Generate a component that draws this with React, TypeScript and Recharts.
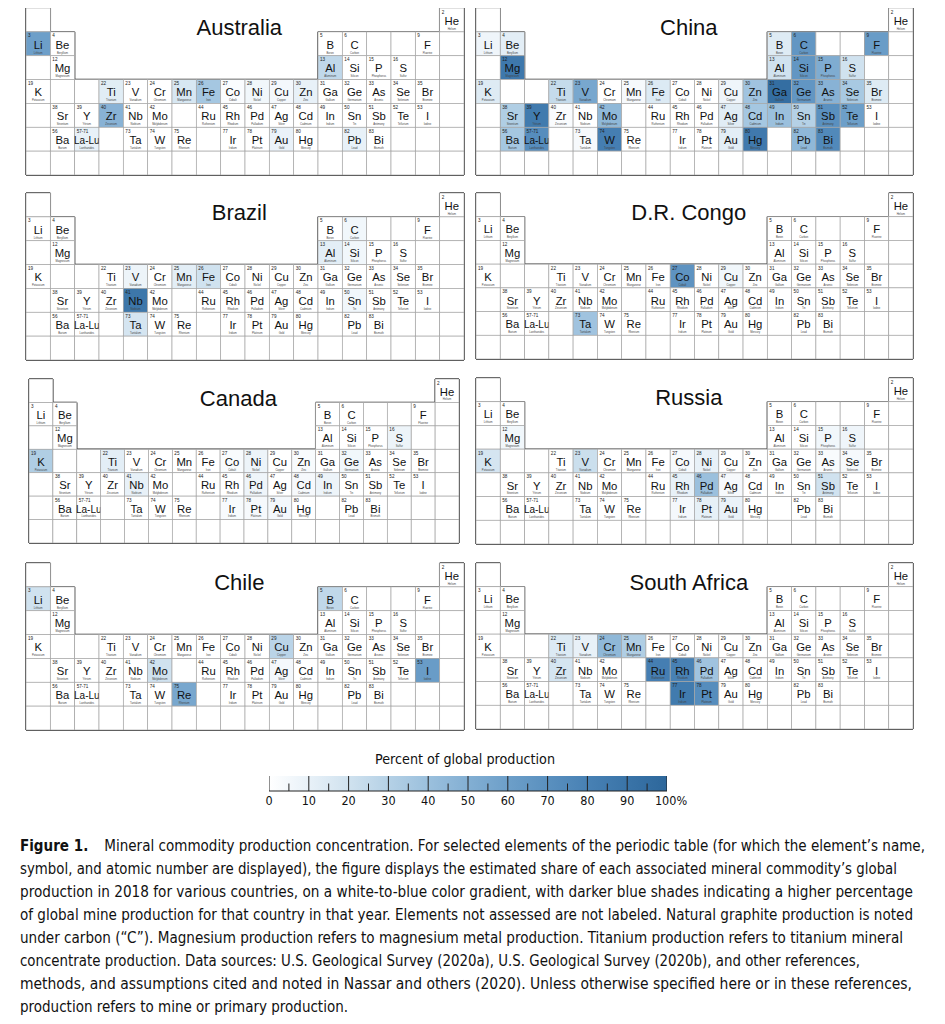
import React from "react";
import { ScatterChart, Scatter, XAxis, YAxis, ReferenceLine, ReferenceArea } from "recharts";

type Elem = { num: string; sym: string; name: string; period: number; group: number };

// elements that are labelled in every table
const elements: Elem[] = [
  { num: "2", sym: "He", name: "Helium", period: 1, group: 18 },
  { num: "3", sym: "Li", name: "Lithium", period: 2, group: 1 },
  { num: "4", sym: "Be", name: "Beryllium", period: 2, group: 2 },
  { num: "5", sym: "B", name: "Boron", period: 2, group: 13 },
  { num: "6", sym: "C", name: "Carbon", period: 2, group: 14 },
  { num: "9", sym: "F", name: "Fluorine", period: 2, group: 17 },
  { num: "12", sym: "Mg", name: "Magnesium", period: 3, group: 2 },
  { num: "13", sym: "Al", name: "Aluminum", period: 3, group: 13 },
  { num: "14", sym: "Si", name: "Silicon", period: 3, group: 14 },
  { num: "15", sym: "P", name: "Phosphorus", period: 3, group: 15 },
  { num: "16", sym: "S", name: "Sulfur", period: 3, group: 16 },
  { num: "19", sym: "K", name: "Potassium", period: 4, group: 1 },
  { num: "22", sym: "Ti", name: "Titanium", period: 4, group: 4 },
  { num: "23", sym: "V", name: "Vanadium", period: 4, group: 5 },
  { num: "24", sym: "Cr", name: "Chromium", period: 4, group: 6 },
  { num: "25", sym: "Mn", name: "Manganese", period: 4, group: 7 },
  { num: "26", sym: "Fe", name: "Iron", period: 4, group: 8 },
  { num: "27", sym: "Co", name: "Cobalt", period: 4, group: 9 },
  { num: "28", sym: "Ni", name: "Nickel", period: 4, group: 10 },
  { num: "29", sym: "Cu", name: "Copper", period: 4, group: 11 },
  { num: "30", sym: "Zn", name: "Zinc", period: 4, group: 12 },
  { num: "31", sym: "Ga", name: "Gallium", period: 4, group: 13 },
  { num: "32", sym: "Ge", name: "Germanium", period: 4, group: 14 },
  { num: "33", sym: "As", name: "Arsenic", period: 4, group: 15 },
  { num: "34", sym: "Se", name: "Selenium", period: 4, group: 16 },
  { num: "35", sym: "Br", name: "Bromine", period: 4, group: 17 },
  { num: "38", sym: "Sr", name: "Strontium", period: 5, group: 2 },
  { num: "39", sym: "Y", name: "Yttrium", period: 5, group: 3 },
  { num: "40", sym: "Zr", name: "Zirconium", period: 5, group: 4 },
  { num: "41", sym: "Nb", name: "Niobium", period: 5, group: 5 },
  { num: "42", sym: "Mo", name: "Molybdenum", period: 5, group: 6 },
  { num: "44", sym: "Ru", name: "Ruthenium", period: 5, group: 8 },
  { num: "45", sym: "Rh", name: "Rhodium", period: 5, group: 9 },
  { num: "46", sym: "Pd", name: "Palladium", period: 5, group: 10 },
  { num: "47", sym: "Ag", name: "Silver", period: 5, group: 11 },
  { num: "48", sym: "Cd", name: "Cadmium", period: 5, group: 12 },
  { num: "49", sym: "In", name: "Indium", period: 5, group: 13 },
  { num: "50", sym: "Sn", name: "Tin", period: 5, group: 14 },
  { num: "51", sym: "Sb", name: "Antimony", period: 5, group: 15 },
  { num: "52", sym: "Te", name: "Tellurium", period: 5, group: 16 },
  { num: "53", sym: "I", name: "Iodine", period: 5, group: 17 },
  { num: "56", sym: "Ba", name: "Barium", period: 6, group: 2 },
  { num: "57-71", sym: "La-Lu", name: "Lanthanides", period: 6, group: 3 },
  { num: "73", sym: "Ta", name: "Tantalum", period: 6, group: 5 },
  { num: "74", sym: "W", name: "Tungsten", period: 6, group: 6 },
  { num: "75", sym: "Re", name: "Rhenium", period: 6, group: 7 },
  { num: "77", sym: "Ir", name: "Iridium", period: 6, group: 9 },
  { num: "78", sym: "Pt", name: "Platinum", period: 6, group: 10 },
  { num: "79", sym: "Au", name: "Gold", period: 6, group: 11 },
  { num: "80", sym: "Hg", name: "Mercury", period: 6, group: 12 },
  { num: "82", sym: "Pb", name: "Lead", period: 6, group: 14 },
  { num: "83", sym: "Bi", name: "Bismuth", period: 6, group: 15 },
];

// percent of global production, 2018
const australiaShares: [string, number][] = [
  ["Li", 60], ["Al", 26], ["Ti", 13], ["Mn", 17], ["Fe", 36], ["Co", 2], ["Ni", 6], ["Cu", 5],
  ["Zn", 10], ["Zr", 48], ["La-Lu", 10], ["Au", 9], ["Pb", 10],
];
const chinaShares: [string, number][] = [
  ["Li", 7], ["Be", 12], ["B", 14], ["C", 66], ["F", 62], ["Mg", 87], ["Al", 20], ["Si", 66],
  ["P", 52], ["S", 20], ["K", 14], ["Ti", 24], ["V", 55], ["Mn", 4], ["Fe", 15], ["Cu", 7],
  ["Zn", 38], ["Ga", 95], ["Ge", 66], ["As", 48], ["Se", 35], ["Br", 14], ["Sr", 32], ["Y", 85],
  ["Zr", 2], ["Mo", 45], ["Ag", 13], ["Cd", 36], ["In", 40], ["Sn", 30], ["Sb", 70], ["Te", 60],
  ["Ba", 36], ["La-Lu", 72], ["Ta", 4], ["W", 82], ["Au", 12], ["Hg", 86], ["Pb", 45], ["Bi", 75],
];
const brazilShares: [string, number][] = [
  ["C", 6], ["Al", 12], ["Si", 6], ["V", 8], ["Mn", 12], ["Fe", 20], ["Nb", 88], ["Sn", 6], ["Ta", 18],
];
const congoShares: [string, number][] = [["Co", 68], ["Cu", 6], ["Ta", 38]];
const canadaShares: [string, number][] = [
  ["S", 8], ["K", 32], ["Ti", 12], ["Ni", 8], ["Ge", 6], ["Nb", 10], ["Pd", 7], ["Cd", 4],
  ["In", 8], ["Pt", 4], ["Ir", 3], ["Au", 5], ["Co", 3], ["Zn", 3],
];
const russiaShares: [string, number][] = [
  ["Mg", 6], ["P", 6], ["S", 7], ["K", 18], ["V", 22], ["Ni", 10], ["Co", 4], ["Se", 4], ["As", 3],
  ["Rh", 10], ["Pd", 40], ["Sb", 20], ["Ir", 5], ["Pt", 11], ["Au", 9], ["Ag", 4],
];
const chileShares: [string, number][] = [
  ["Li", 20], ["B", 26], ["Cu", 28], ["Mo", 20], ["Ag", 5], ["I", 62], ["Re", 55],
];
const southAfricaShares: [string, number][] = [
  ["Ti", 15], ["V", 10], ["Cr", 45], ["Mn", 32], ["Zr", 18], ["Ru", 82], ["Rh", 80], ["Pd", 38],
  ["Ir", 85], ["Pt", 72],
];

const countries: { name: string; shares: [string, number][] }[] = [
  { name: "Australia", shares: australiaShares },
  { name: "China", shares: chinaShares },
  { name: "Brazil", shares: brazilShares },
  { name: "D.R. Congo", shares: congoShares },
  { name: "Canada", shares: canadaShares },
  { name: "Russia", shares: russiaShares },
  { name: "Chile", shares: chileShares },
  { name: "South Africa", shares: southAfricaShares },
];

// colour scale
const gradientStops: [number, string][] = [
  [0, "#ffffff"], [10, "#e8f1f8"], [20, "#d0e2ef"], [30, "#b5d1e6"], [40, "#9bc0dd"],
  [50, "#83afd3"], [60, "#6d9fc9"], [70, "#5a90bf"], [80, "#4881b4"], [90, "#3a74a8"], [100, "#2d679b"],
];
const majorTicks = [0, 10, 20, 30, 40, 50, 60, 70, 80, 90, 100];
const minorTicks = [5, 15, 25, 35, 45, 55, 65, 75, 85, 95];

const captionLines = [
  "Mineral commodity production concentration. For selected elements of the periodic table (for which the element\u2019s name,",
  "symbol, and atomic number are displayed), the figure displays the estimated share of each associated mineral commodity\u2019s global",
  "production in 2018 for various countries, on a white-to-blue color gradient, with darker blue shades indicating a higher percentage",
  "of global mine production for that country in that year. Elements not assessed are not labeled. Natural graphite production is noted",
  "under carbon (\u201cC\u201d). Magnesium production refers to magnesium metal production. Titanium production refers to titanium mineral",
  "concentrate production. Data sources: U.S. Geological Survey (2020a), U.S. Geological Survey (2020b), and other references,",
  "methods, and assumptions cited and noted in Nassar and others (2020). Unless otherwise specified here or in these references,",
  "production refers to mine or primary production.",
];
const captionWidths = [905, 877, 893, 893, 883, 840, 892, 328];

const NARROW = '"Liberation Sans Narrow", "Arial Narrow", "DejaVu Sans Condensed", sans-serif';
const SANS = '"Liberation Sans", Arial, Helvetica, sans-serif';

// panel boxes (table area) inside the page container
const boxes = [
  { x: 18, y: 0, w: 438, h: 167 },
  { x: 468, y: 0, w: 437, h: 167 },
  { x: 18, y: 185, w: 438, h: 167 },
  { x: 468, y: 185, w: 437, h: 166 },
  { x: 21, y: 371, w: 430, h: 164 },
  { x: 468, y: 370, w: 437, h: 166 },
  { x: 18, y: 555, w: 438, h: 167 },
  { x: 468, y: 555, w: 437, h: 166 },
];

// heavy outline of the table, in [x1, y1, x2, y2] grid units
const outline: number[][] = [
  [0, 0, 1, 0], [0, 0, 0, 7], [0, 7, 18, 7], [18, 0, 18, 7], [17, 0, 18, 0],
  [0, 1, 1, 1], [1, 0, 1, 7], [1, 1, 2, 1], [2, 1, 2, 7], [2, 3, 12, 3],
  [12, 1, 12, 3], [12, 1, 17, 1], [17, 0, 17, 7], [16, 1, 16, 7],
];

const hexToRgb = (h: string) => [1, 3, 5].map((i) => parseInt(h.slice(i, i + 2), 16));
function shade(v: number) {
  if (!v) return "#ffffff";
  for (let i = 1; i < gradientStops.length; i++) {
    const [v0, c0] = gradientStops[i - 1];
    const [v1, c1] = gradientStops[i];
    if (v <= v1) {
      const t = (v - v0) / (v1 - v0);
      const a = hexToRgb(c0), b = hexToRgb(c1);
      return `rgb(${a.map((x, k) => Math.round(x + (b[k] - x) * t)).join(",")})`;
    }
  }
  return gradientStops[gradientStops.length - 1][1];
}

const inTable = (p: number, g: number) =>
  p === 1 ? g === 1 || g === 18 : p <= 3 ? g <= 2 || g >= 13 : true;

const gridCells: { x: number; y: number; el?: Elem }[] = [];
for (let p = 1; p <= 7; p++) {
  for (let g = 1; g <= 18; g++) {
    if (!inTable(p, g)) continue;
    gridCells.push({ x: g - 0.5, y: p - 0.5, el: elements.find((e) => e.period === p && e.group === g) });
  }
}

const PAD = 2;

const ElementCell = (props: any) => {
  const { cx, cy, payload, cw, ch } = props;
  const el: Elem | undefined = payload.el;
  return (
    <g>
      <rect x={cx - cw / 2} y={cy - ch / 2} width={cw} height={ch} fill={shade(payload.value)} stroke="#a6a6a6" strokeWidth={0.7} />
      {el && (
        <>
          <text x={cx - cw / 2 + 2} y={cy - ch / 2 + 5.6} fontSize={4.6} fontFamily={SANS} fill="#222">{el.num}</text>
          <text x={cx} y={cy + 4.8} textAnchor="middle" fontSize={el.sym.length > 2 ? 10 : 11.3} fontFamily={SANS} fill="#111">{el.sym}</text>
          <text x={cx} y={cy + ch / 2 - 2.2} textAnchor="middle" fontSize={2.7} fontFamily={SANS} fill="#444">{el.name}</text>
        </>
      )}
    </g>
  );
};

function Panel({ name, shares, box }: { name: string; shares: [string, number][]; box: { x: number; y: number; w: number; h: number } }) {
  const lookup = new Map(shares);
  const cells = gridCells.map((c) => ({ ...c, value: c.el ? lookup.get(c.el.sym) ?? 0 : 0 }));
  const cw = box.w / 18;
  const ch = box.h / 7;
  return (
    <>
      <div style={{ position: "absolute", left: box.x - PAD, top: box.y - PAD }}>
        <ScatterChart width={box.w + 2 * PAD} height={box.h + 2 * PAD} margin={{ top: PAD, right: PAD, bottom: PAD, left: PAD }}>
          <XAxis type="number" dataKey="x" domain={[0, 18]} allowDataOverflow hide />
          <YAxis type="number" dataKey="y" domain={[0, 7]} allowDataOverflow reversed hide />
          <Scatter data={cells} isAnimationActive={false} shape={(p: any) => <ElementCell {...p} cw={cw} ch={ch} />} />
          {outline.map((s, i) => (
            <ReferenceLine key={i} segment={[{ x: s[0], y: s[1] }, { x: s[2], y: s[3] }]} stroke="#2b2b2b" strokeWidth={1.4} ifOverflow="visible" />
          ))}
        </ScatterChart>
      </div>
      <div
        style={{
          position: "absolute",
          left: box.x + box.w * 0.487,
          top: box.y + 20,
          transform: "translate(-50%, -50%)",
          fontFamily: SANS,
          fontSize: 22,
          lineHeight: 1,
          color: "#111",
          whiteSpace: "nowrap",
        }}
      >
        {name}
      </div>
    </>
  );
}

const tickMarks = [
  ...majorTicks.map((t) => ({ x: t, y: 0, len: 1 })),
  ...minorTicks.map((t) => ({ x: t, y: 0, len: 0.5 })),
];
const BAR_H = 15;

const TickMark = (props: any) => {
  const { cx, cy, payload } = props;
  return <line x1={cx} x2={cx} y1={cy} y2={cy - BAR_H * payload.len} stroke="#222" strokeWidth={1} />;
};

const BarTick = (props: any) => {
  const { x, y, payload } = props;
  const v = payload.value;
  return (
    <text x={x + (v === 100 ? 4 : 0)} y={y + 14} textAnchor="middle" fontSize={12.5} fontFamily={NARROW} fill="#111">
      {v === 100 ? "100%" : String(v)}
    </text>
  );
};

function ColorBar() {
  return (
    <>
      <svg style={{ position: "absolute", left: 357, top: 740 }} width={200} height={24}>
        <text x={100} y={16} textAnchor="middle" fontSize={14} fontFamily={NARROW} fill="#111" textLength={180} lengthAdjust="spacingAndGlyphs">
          Percent of global production
        </text>
      </svg>
      <div style={{ position: "absolute", left: 249, top: 766 }}>
        <ScatterChart width={434} height={39} margin={{ top: 2, right: 24, bottom: 0, left: 12 }}>
          <defs>
            <linearGradient id="pgGrad" x1="0" y1="0" x2="1" y2="0">
              {gradientStops.map(([v, c]) => (
                <stop key={v} offset={`${v}%`} stopColor={c} />
              ))}
            </linearGradient>
          </defs>
          <XAxis
            type="number"
            dataKey="x"
            domain={[0, 100]}
            allowDataOverflow
            ticks={majorTicks}
            interval={0}
            tickLine={false}
            tickSize={0}
            tickMargin={0}
            height={22}
            axisLine={{ stroke: "#222", strokeWidth: 1 }}
            tick={<BarTick />}
          />
          <YAxis type="number" dataKey="y" domain={[0, 1]} allowDataOverflow hide />
          <ReferenceArea x1={0} x2={100} y1={0} y2={1} fill="url(#pgGrad)" fillOpacity={1} stroke="none" />
          <Scatter data={tickMarks} isAnimationActive={false} shape={TickMark} />
        </ScatterChart>
      </div>
    </>
  );
}

function Caption() {
  return (
    <svg style={{ position: "absolute", left: 0, top: 825 }} width={929} height={195}>
      {captionLines.map((line, i) => (
        <text
          key={i}
          x={12}
          y={18 + 23 * i}
          fontSize={15}
          fontFamily={NARROW}
          fill="#111"
          textLength={captionWidths[i]}
          lengthAdjust="spacingAndGlyphs"
        >
          {i === 0 ? (
            <>
              <tspan fontWeight="bold">Figure 1.</tspan>
              <tspan dx={16}>{line}</tspan>
            </>
          ) : (
            line
          )}
        </text>
      ))}
    </svg>
  );
}

export default function App() {
  return (
    <div style={{ position: "relative", width: 929, height: 1008, background: "#fff" }}>
      {countries.map((c, i) => (
        <Panel key={c.name} name={c.name} shares={c.shares} box={boxes[i]} />
      ))}
      <ColorBar />
      <Caption />
    </div>
  );
}
